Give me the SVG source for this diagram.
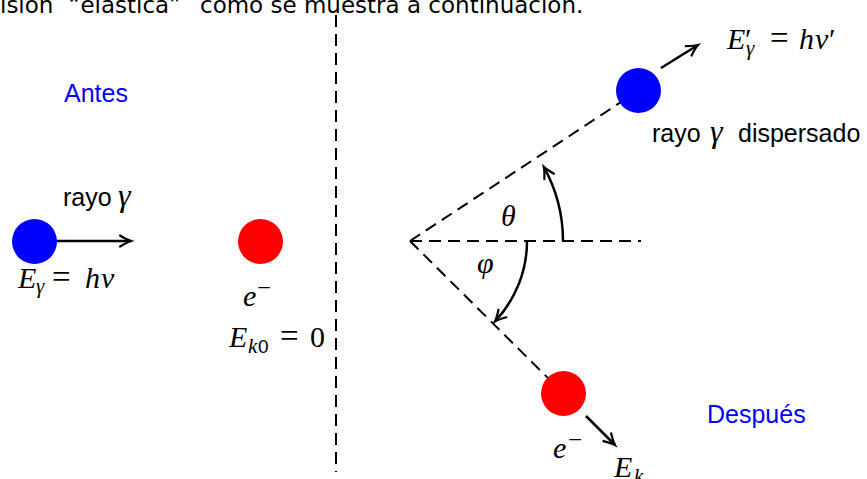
<svg xmlns="http://www.w3.org/2000/svg" width="867" height="479" viewBox="0 0 867 479">
  <defs>
    <style>
      .cap { font-family: "DejaVu Sans", "Liberation Sans", sans-serif; font-size: 23px; fill: #000; }
      .sans { font-family: "Liberation Sans", "DejaVu Sans", sans-serif; font-size: 25px; fill: #000; }
      .blue { fill: #0000ff; }
      .math { font-family: "Liberation Serif", "DejaVu Serif", serif; font-size: 30px; font-style: italic; fill: #000; }
      .up { font-style: normal; }
      .sub { font-size: 21px; }
      .sup { font-size: 25px; font-style: normal; }
      .dash { fill: none; stroke: #000; stroke-width: 2; stroke-dasharray: 12 7; }
      .arrow { fill: none; stroke: #000; stroke-width: 2.5; marker-end: url(#arr); }
      .photon { fill: #0000ff; }
      .electron { fill: #ff0000; }
    </style>
    <marker id="arr" viewBox="-14 -8 16 16" refX="0" refY="0" markerWidth="16" markerHeight="16" markerUnits="userSpaceOnUse" orient="auto" overflow="visible">
      <path d="M-11,-5.5 Q-4,-1.2 0,0 Q-4,1.2 -11,5.5" fill="none" stroke="#000" stroke-width="2.2" stroke-linecap="round"/>
    </marker>
  </defs>

  <!-- cut-off caption text at the top -->
  <g id="caption">
    <text class="cap" y="13"><tspan x="0">isión</tspan><tspan x="68.5">“elástica”</tspan><tspan x="200">como se muestra a continuación.</tspan></text>
  </g>

  <g id="connectors">
    <!-- separator -->
    <path class="dash" d="M336,15 V472"/>
    <!-- reference lines after collision -->
    <path class="dash" d="M410,241 H641"/>
    <path class="dash" d="M410,241 L638.5,90.5"/>
    <path class="dash" d="M410,241 L563.5,393.5"/>
    <!-- motion arrows -->
    <path class="arrow" d="M55,241 H131"/>
    <path class="arrow" d="M661,68 L698,45"/>
    <path class="arrow" d="M586,416 L615,445"/>
    <!-- angle arcs -->
    <path class="arrow" d="M563,241 A153,153 0 0 0 543.8,166.8"/>
    <path class="arrow" d="M527,241 A117,117 0 0 1 494.9,321.5"/>
  </g>

  <g id="label-antes">
    <text class="sans blue" x="64" y="101.5">Antes</text>
  </g>

  <g id="photon-before">
    <circle class="photon" cx="34.5" cy="241.5" r="22.5"/>
    <text class="sans" x="63" y="206">rayo</text>
    <text class="math" style="font-size:32px" x="118" y="206">γ</text>
    <text class="math" y="288"><tspan x="18">E</tspan><tspan class="sub" x="36" y="293">γ</tspan><tspan class="up" style="font-size:33px" x="52" y="288">=</tspan><tspan x="85">h</tspan><tspan x="101">ν</tspan></text>
  </g>

  <g id="electron-before">
    <circle class="electron" cx="260.5" cy="241.5" r="22.5"/>
    <text class="math" x="243" y="306">e</text>
    <text class="math sup" x="257" y="296">−</text>
    <text class="math" y="347"><tspan x="229">E</tspan><tspan class="sub" x="248" y="353">k</tspan></text>
    <text class="sans" style="font-size:19px" x="258" y="353">0</text>
    <text class="math up" y="347"><tspan style="font-size:33px" x="280">=</tspan><tspan x="310">0</tspan></text>
  </g>

  <g id="photon-after">
    <circle class="photon" cx="638.5" cy="90.5" r="22.5"/>
    <text class="math" y="49"><tspan x="727">E</tspan><tspan class="up" x="745">′</tspan><tspan class="sub" x="746" y="55">γ</tspan><tspan class="up" style="font-size:33px" x="770" y="49">=</tspan><tspan x="799">h</tspan><tspan x="815">ν</tspan><tspan class="up" x="829">′</tspan></text>
    <text class="sans" x="652" y="142">rayo</text>
    <text class="math" style="font-size:32px" x="710" y="142">γ</text>
    <text class="sans" x="738" y="142">dispersado</text>
  </g>

  <g id="electron-after">
    <circle class="electron" cx="563.5" cy="393.5" r="22.5"/>
    <text class="math" x="553" y="458">e</text>
    <text class="math sup" x="568" y="448">−</text>
    <text class="math" y="477"><tspan x="614">E</tspan><tspan class="sub" x="634" y="483">k</tspan></text>
  </g>

  <g id="angle-labels">
    <text class="math" x="501" y="226">θ</text>
    <text class="math" x="477" y="273">φ</text>
  </g>

  <g id="label-despues">
    <text class="sans blue" x="707" y="423">Después</text>
  </g>
</svg>
